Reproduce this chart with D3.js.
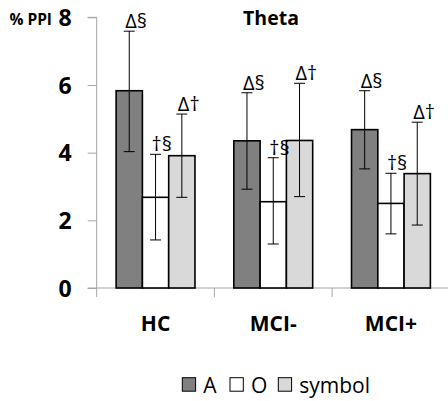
<!DOCTYPE html>
<html><head><meta charset="utf-8">
<script src="https://cdn.jsdelivr.net/npm/d3@7"></script>
<style>
html,body{margin:0;padding:0;background:#fff;}
svg{display:block;font-family:"Open Sans",sans-serif;}
</style></head>
<body><svg id="c" width="448" height="401"></svg>
<script>
const categories = ["HC", "MCI-", "MCI+"];
const seriesNames = ["A", "O", "symbol"];
const seriesColors = ["#808080", "#ffffff", "#d9d9d9"];
const valuesA = [5.83, 4.35, 4.68];
const valuesO = [2.68, 2.55, 2.50];
const valuesSymbol = [3.91, 4.36, 3.38];
const errHighA = [7.59, 5.77, 5.83];
const errLowA = [4.03, 2.92, 3.52];
const errHighO = [3.95, 3.85, 3.39];
const errLowO = [1.42, 1.30, 1.60];
const errHighSymbol = [5.14, 6.05, 4.90];
const errLowSymbol = [2.68, 2.70, 1.86];
const labelsA = ["Δ§", "Δ§", "Δ§"];
const labelsO = ["†§", "†§", "†§"];
const labelsSymbol = ["Δ†", "Δ†", "Δ†"];
const yTicks = [0, 2, 4, 6, 8];
const title = "Theta";
const yLabel = "% PPI";

const values = [valuesA, valuesO, valuesSymbol];
const highs = [errHighA, errHighO, errHighSymbol];
const lows = [errLowA, errLowO, errLowSymbol];
const labels = [labelsA, labelsO, labelsSymbol];

const FONT = "'Open Sans',sans-serif";
const svg = d3.select("#c");
const x0 = 96.7, x1 = 449.8, yBottom = 288, yTop = 17.3;
const x = d3.scaleBand().domain(categories).range([x0, x1]).paddingInner(0).paddingOuter(0);
const y = d3.scaleLinear().domain([0, 8]).range([yBottom, yTop]);
const groupW = x.bandwidth() * 0.67;
const xs = d3.scaleBand().domain(seriesNames).range([0, groupW]).padding(0);
const groupOff = (x.bandwidth() - groupW) / 2;

const axisColor = "#a6a6a6";
// y axis
const yAxis = svg.append("g").attr("transform", `translate(${x0},0)`)
  .call(d3.axisLeft(y).tickValues(yTicks).tickSize(9).tickPadding(16).tickFormat(d3.format("d")));
yAxis.select(".domain").attr("stroke", axisColor).attr("d", `M-9,${yTop}H0V${yBottom}`);
yAxis.selectAll(".tick line").attr("stroke", axisColor);
yAxis.selectAll(".tick text").attr("font-size", 23).attr("font-weight", "bold").attr("fill", "#000")
  .attr("font-family", FONT).attr("dy", "0.36em");

// x axis
const xAxis = svg.append("g").attr("transform", `translate(0,${yBottom})`)
  .call(d3.axisBottom(x).tickSize(0).tickPadding(28));
xAxis.select(".domain").attr("stroke", axisColor).attr("d", `M${x0 - 9},0H${x1}`);
xAxis.selectAll(".tick text").attr("font-size", 21).attr("font-weight", "bold").attr("fill", "#000")
  .attr("font-family", FONT).attr("dy", "0.71em");
// category separator ticks
svg.append("g").selectAll("line").data(categories.concat(["end"])).join("line")
  .attr("x1", (d, i) => x0 + i * x.bandwidth()).attr("x2", (d, i) => x0 + i * x.bandwidth())
  .attr("y1", yBottom).attr("y2", yBottom + 9).attr("stroke", axisColor);

// bars
const groups = svg.append("g").selectAll("g").data(categories).join("g")
  .attr("transform", d => `translate(${x(d) + groupOff},0)`);
seriesNames.forEach((s, si) => {
  groups.append("rect")
    .attr("x", xs(s)).attr("width", xs.bandwidth())
    .attr("y", (d, ci) => y(values[si][ci]))
    .attr("height", (d, ci) => y(0) - y(values[si][ci]))
    .attr("fill", seriesColors[si]).attr("stroke", "#000").attr("stroke-width", 1.6);
});
// error bars
seriesNames.forEach((s, si) => {
  const cx = xs(s) + xs.bandwidth() / 2;
  groups.append("line").attr("x1", cx).attr("x2", cx)
    .attr("y1", (d, ci) => y(highs[si][ci])).attr("y2", (d, ci) => y(lows[si][ci]))
    .attr("stroke", "#000").attr("stroke-width", 1);
  [highs, lows].forEach(arr => {
    groups.append("line").attr("x1", cx - 5.5).attr("x2", cx + 5.5)
      .attr("y1", (d, ci) => y(arr[si][ci])).attr("y2", (d, ci) => y(arr[si][ci]))
      .attr("stroke", "#000").attr("stroke-width", 1);
  });
  groups.append("text").attr("x", cx - 4).attr("y", (d, ci) => y(highs[si][ci]) - 3)
    .attr("font-size", 20).attr("fill", "#000").text((d, ci) => labels[si][ci]);
});

// title
svg.append("text").attr("x", 271).attr("y", 25).attr("text-anchor", "middle")
  .attr("font-size", 19.5).attr("font-weight", "bold").text(title);
// y label
svg.append("text").attr("x", 52).attr("y", 25).attr("text-anchor", "end")
  .attr("font-size", 15.5).attr("font-weight", "bold").text(yLabel);

// legend
const legX = [182.3, 230, 278.3];
const leg = svg.append("g").selectAll("g").data(seriesNames).join("g")
  .attr("transform", (d, i) => `translate(${legX[i]},377.7)`);
leg.append("rect").attr("width", 13.3).attr("height", 13.5)
  .attr("fill", (d, i) => seriesColors[i]).attr("stroke", "#000").attr("stroke-width", 1);
leg.append("text").attr("x", 21).attr("y", 15).attr("font-size", 21).text(d => d);
</script></body></html>
